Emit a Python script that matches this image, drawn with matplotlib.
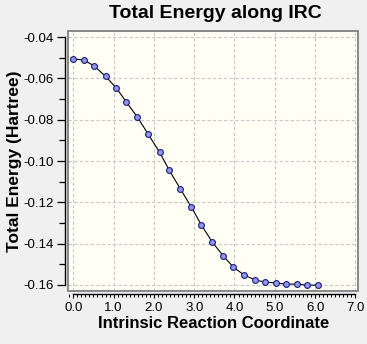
import matplotlib
matplotlib.use("Agg")
import matplotlib.pyplot as plt
from matplotlib.patches import Rectangle
from matplotlib.ticker import MultipleLocator, FormatStrFormatter

# Data
irc_coord = [0.0, 0.27, 0.52, 0.80, 1.07, 1.32, 1.59, 1.86, 2.14, 2.38,
             2.66, 2.93, 3.18, 3.45, 3.72, 3.97, 4.24, 4.52, 4.76, 5.04,
             5.29, 5.56, 5.81, 6.08]
energy = [-0.0505, -0.0511, -0.0540, -0.0589, -0.0647, -0.0715, -0.0787,
          -0.0870, -0.0957, -0.1044, -0.1136, -0.1223, -0.1310, -0.1393,
          -0.1459, -0.1514, -0.1552, -0.1577, -0.1586, -0.1591, -0.1596,
          -0.1596, -0.1601, -0.1601]

title = "Total Energy along IRC"
xlabel = "Intrinsic Reaction Coordinate"
ylabel = "Total Energy (Hartree)"

W, H = 367, 344
DPI = 100
fig = plt.figure(figsize=(W / DPI, H / DPI), dpi=DPI, facecolor="#f0f0f0")
plt.rcParams['font.family'] = ['Liberation Sans', 'DejaVu Sans']

# axes box in pixels
left, right, top, bottom = 68.3, 358.0, 31.0, 290.7
ax = fig.add_axes([left / W, 1 - bottom / H, (right - left) / W, (bottom - top) / H])
ax.set_facecolor("#fffff6")

ax.plot(irc_coord, energy, color="black", lw=0.8,
        marker="o", ms=4.2, mfc="#8f96e6", mec="#1c1c80", mew=0.8, zorder=3)

ax.set_xlim(-0.124, 7.065)
ax.set_ylim(-0.1628, -0.0370)

ax.xaxis.set_major_locator(MultipleLocator(1.0))
ax.xaxis.set_minor_locator(MultipleLocator(0.1))
ax.yaxis.set_major_locator(MultipleLocator(0.02))
ax.yaxis.set_minor_locator(MultipleLocator(0.01))
ax.xaxis.set_major_formatter(FormatStrFormatter("%.1f"))
ax.yaxis.set_major_formatter(FormatStrFormatter("%.2f"))

ax.grid(True, which="major", color="#c8c8c8", ls=(0, (3, 2)), lw=0.8, zorder=0)

for s in ("top", "right"):
    ax.spines[s].set_visible(False)
ax.spines["left"].set_position(("outward", 2.3))
ax.spines["bottom"].set_position(("outward", 2.4))
ax.spines["left"].set_bounds(-0.16, -0.04)
ax.spines["bottom"].set_bounds(0.0, 7.0)
ax.spines["left"].set_linewidth(1.0)
ax.spines["bottom"].set_linewidth(1.0)

ax.add_patch(Rectangle((0, 0), 1, 1, transform=ax.transAxes, fill=False,
                       edgecolor="#808080", lw=1.3, clip_on=False, zorder=4))

ax.tick_params(axis="x", which="major", direction="out", length=3.2, width=0.8,
               pad=2.5, labelsize=9.5)
ax.tick_params(axis="x", which="minor", direction="out", length=2.4, width=0.7)
ax.tick_params(axis="y", which="major", direction="out", length=6.0, width=0.9,
               pad=2.0, labelsize=9.5)
ax.tick_params(axis="y", which="minor", direction="out", length=4.5, width=0.9)

ax.set_xlabel(xlabel, fontsize=12, fontweight="bold", labelpad=1.5)
ax.set_ylabel(ylabel, fontsize=12.5, fontweight="bold", labelpad=1)
fig.text((left + right) / 2 / W + 0.006, 1 - 14 / H, title, ha="center",
         va="center", fontsize=14, fontweight="bold")

fig.savefig("out.png", dpi=DPI, facecolor=fig.get_facecolor())
